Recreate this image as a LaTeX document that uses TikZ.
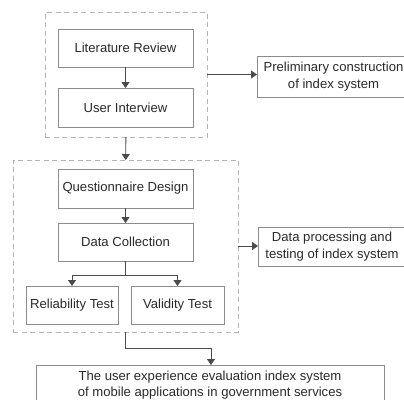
\documentclass[tikz,border=0pt]{standalone}
\usepackage{fontspec}
\setmainfont{Liberation Sans}
\usetikzlibrary{arrows.meta}
\definecolor{txt}{HTML}{2A2A2A}
\definecolor{boxline}{HTML}{8C8C8C}
\definecolor{dashline}{HTML}{B4B4B4}
\definecolor{conn}{HTML}{4A4A4A}
\begin{document}
\begin{tikzpicture}[x=1pt,y=-1pt,
  stepbox/.style={draw=boxline,line width=0.9pt,fill=white,inner sep=0pt,outer sep=0pt,
    text=txt,font=\fontsize{13.1}{17}\selectfont,align=center},
  groupbox/.style={draw=dashline,line width=1pt,dash pattern=on 5pt off 3.5pt,inner sep=0pt,outer sep=0pt},
  conn/.style={draw=conn,line width=0.9pt,-{Triangle[width=8pt,length=6pt]}}]
\useasboundingbox (0,0) rectangle (404,399);
\clip (0,0) rectangle (404,399);
\fill[white] (0,0) rectangle (404,399);
% groups
\node[groupbox,minimum width=162pt,minimum height=125pt] (g1) at (126,74.5) {};
\node[groupbox,minimum width=225pt,minimum height=172pt] (g2) at (125.5,246) {};
% steps
\node[stepbox,minimum width=135pt,minimum height=38pt] (lr) at (125.5,48) {Literature Review};
\node[stepbox,minimum width=135pt,minimum height=39pt] (ui) at (125.5,107.5) {User Interview};
\node[stepbox,minimum width=153pt,minimum height=41pt] (pc) at (333.5,76.5) {Preliminary construction\\of index system};
\node[stepbox,minimum width=135pt,minimum height=39pt] (qd) at (125.5,188.5) {Questionnaire Design};
\node[stepbox,minimum width=135pt,minimum height=38pt] (dc) at (125.5,242) {Data Collection};
\node[stepbox,minimum width=92pt,minimum height=38pt] (rt) at (72,305) {Reliability Test};
\node[stepbox,minimum width=93pt,minimum height=38pt] (vt) at (177.5,305) {Validity Test};
\node[stepbox,minimum width=148pt,minimum height=39pt] (dp) at (332,246.5) {Data processing and\\testing of index system};
\node[stepbox,minimum width=348pt,minimum height=40pt,font=\fontsize{13.1}{16}\selectfont] (fin) at (210,385) {The user experience evaluation index system\\of mobile applications in government services};
% connectors
\draw[conn] (lr) -- (ui);
\draw[conn] (g1.east) -- (g1.east -| pc.west);
\draw[conn] (g1) -- (g2);
\draw[conn] (qd) -- (dc);
\coordinate (br) at (125.5,275);
\draw[draw=conn,line width=0.9pt] (dc.south) -- (br);
\draw[conn] (br) -| (rt.north);
\draw[conn] (br) -| (vt.north);
\draw[conn] (g2.east) -- (g2.east -| dp.west);
\coordinate (bend) at (211,348);
\draw[conn] (g2.south) |- (bend) -- (bend |- fin.north);
\end{tikzpicture}
\end{document}
